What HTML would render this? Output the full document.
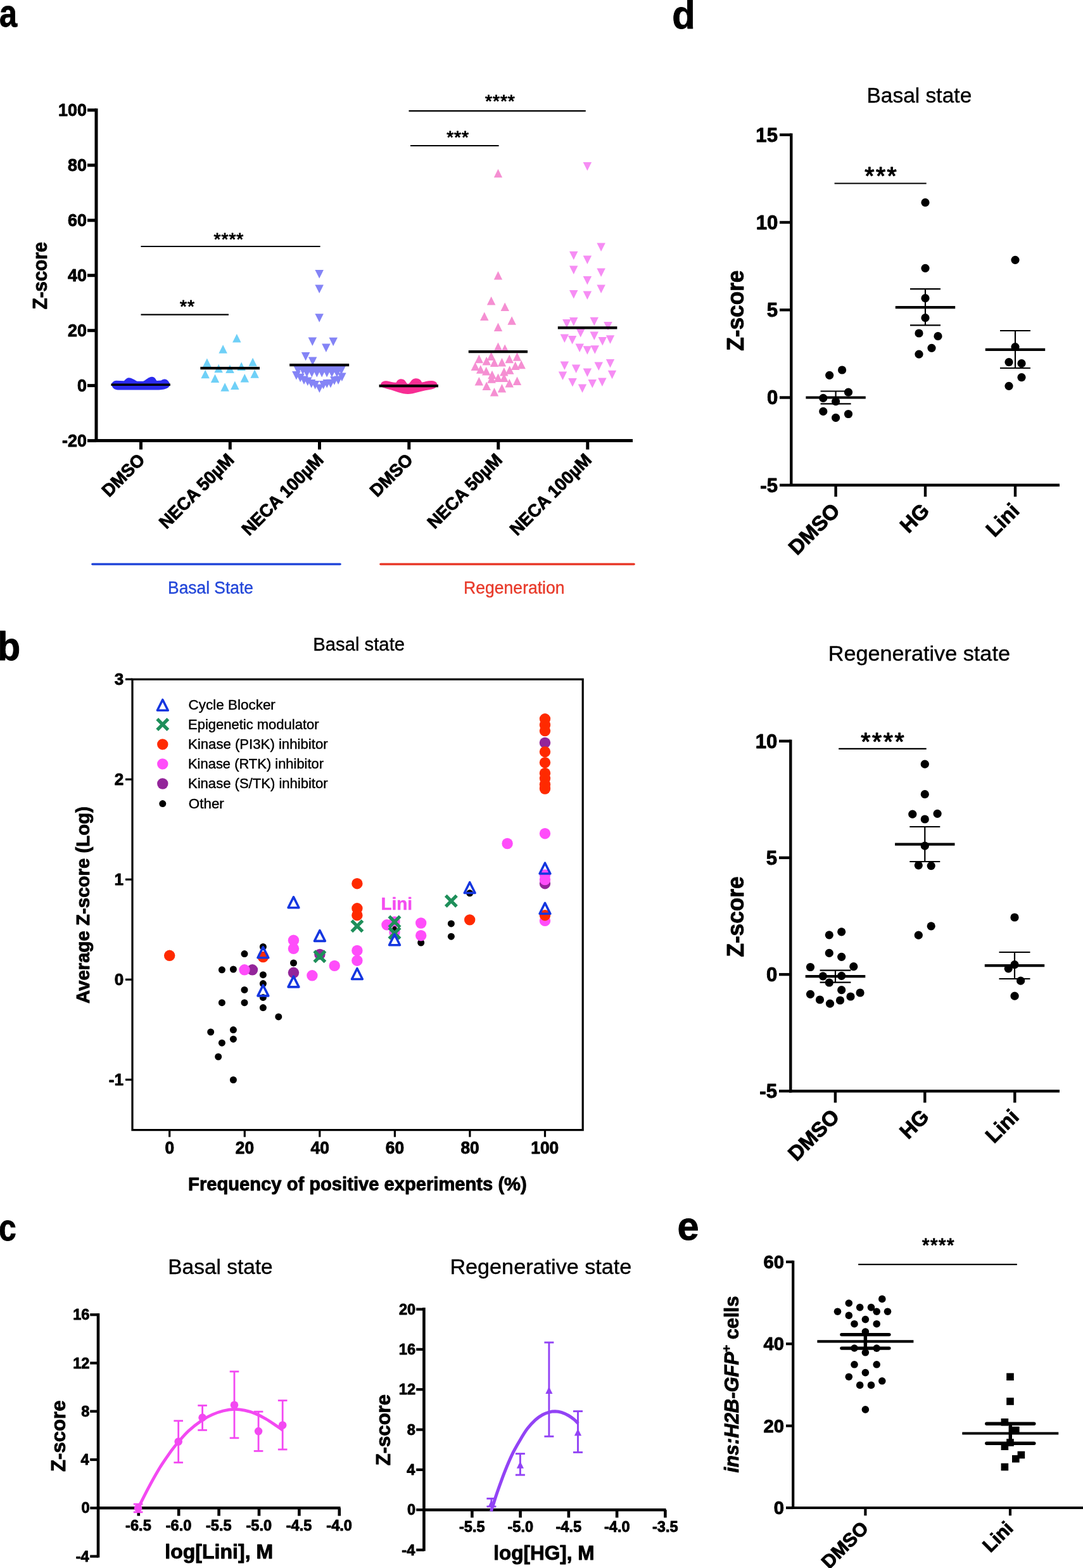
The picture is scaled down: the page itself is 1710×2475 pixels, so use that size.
<!DOCTYPE html>
<html lang="en">
<head>
<meta charset="utf-8">
<title>Figure</title>
<style>
html,body{margin:0;padding:0;background:#fff;}
body{width:1710px;height:2475px;overflow:hidden;}
svg{display:block;font-family:"Liberation Sans", Arial, sans-serif;}
</style>
</head>
<body>
<svg width="1710" height="2475" viewBox="0 0 1710 2475">
<rect x="0" y="0" width="1710" height="2475" fill="#fff"/>
<g id="panel-a">
<path d="M 176.2,607.2 C 176.2,603.8 179.9,600.8 183.4,600.8 L 195.8,601.3 C 198.5,598.3 200.6,596.2 203.6,596.2 C 207.5,596.2 212.3,599.6 216.5,601.7 L 226.1,601.7 C 230.3,600.3 234.4,594.8 239.9,594.8 C 244.7,594.8 246.1,599.6 247.5,601.0 L 254.4,600.5 C 256.4,599.1 258.5,598.5 260.3,598.5 C 264.0,598.5 267.7,603.1 268.3,607.2 C 267.7,610.7 264.7,612.7 260.6,614.1 C 257.8,615.0 253.7,615.4 250.9,615.4 L 186.1,615.4 C 181.3,615.4 176.8,612.1 176.2,607.2 Z" fill="#2b2bee"/>
<line x1="175.4" y1="607.2" x2="268.9" y2="607.2" stroke="#000" stroke-width="3.5" stroke-linecap="butt"/>
<polygon points="373.9,526.9 380.6,540.4 367.1,540.4" fill="#6fd0f7"/>
<polygon points="352.1,544.2 358.9,557.8 345.4,557.8" fill="#6fd0f7"/>
<polygon points="326.9,565.4 333.6,578.9 320.1,578.9" fill="#6fd0f7"/>
<polygon points="399.1,564.8 405.9,578.2 392.4,578.2" fill="#6fd0f7"/>
<polygon points="345.2,574.8 351.9,588.2 338.4,588.2" fill="#6fd0f7"/>
<polygon points="363.0,575.6 369.8,589.1 356.2,589.1" fill="#6fd0f7"/>
<polygon points="381.2,571.4 387.9,584.9 374.4,584.9" fill="#6fd0f7"/>
<polygon points="324.1,583.8 330.9,597.2 317.4,597.2" fill="#6fd0f7"/>
<polygon points="402.1,583.2 408.9,596.8 395.4,596.8" fill="#6fd0f7"/>
<polygon points="339.5,590.4 346.2,603.9 332.8,603.9" fill="#6fd0f7"/>
<polygon points="386.3,590.1 393.1,603.6 379.6,603.6" fill="#6fd0f7"/>
<polygon points="370.9,601.5 377.6,615.0 364.1,615.0" fill="#6fd0f7"/>
<polygon points="355.1,604.2 361.9,617.8 348.4,617.8" fill="#6fd0f7"/>
<line x1="316.4" y1="581.1" x2="410.0" y2="581.1" stroke="#000" stroke-width="4.2" stroke-linecap="butt"/>
<polygon points="504.2,439.6 510.9,426.1 497.4,426.1" fill="#8484f6"/>
<polygon points="504.2,463.1 510.9,449.6 497.4,449.6" fill="#8484f6"/>
<polygon points="504.2,508.8 510.9,495.2 497.4,495.2" fill="#8484f6"/>
<polygon points="493.3,545.9 500.1,532.4 486.6,532.4" fill="#8484f6"/>
<polygon points="526.2,546.2 533.0,532.8 519.5,532.8" fill="#8484f6"/>
<polygon points="514.9,556.1 521.6,542.6 508.1,542.6" fill="#8484f6"/>
<polygon points="482.6,569.4 489.4,555.9 475.9,555.9" fill="#8484f6"/>
<polygon points="493.7,576.9 500.4,563.4 486.9,563.4" fill="#8484f6"/>
<polygon points="470.5,591.6 477.2,578.1 463.8,578.1" fill="#8484f6"/>
<polygon points="478.1,591.6 484.9,578.1 471.4,578.1" fill="#8484f6"/>
<polygon points="485.7,591.6 492.4,578.1 478.9,578.1" fill="#8484f6"/>
<polygon points="493.3,591.6 500.1,578.1 486.6,578.1" fill="#8484f6"/>
<polygon points="500.9,591.6 507.6,578.1 494.1,578.1" fill="#8484f6"/>
<polygon points="508.5,591.6 515.2,578.1 501.8,578.1" fill="#8484f6"/>
<polygon points="516.1,591.6 522.9,578.1 509.4,578.1" fill="#8484f6"/>
<polygon points="523.7,591.6 530.5,578.1 517.0,578.1" fill="#8484f6"/>
<polygon points="531.3,591.6 538.0,578.1 524.5,578.1" fill="#8484f6"/>
<polygon points="538.9,591.6 545.6,578.1 532.1,578.1" fill="#8484f6"/>
<polygon points="484.5,595.4 491.2,581.9 477.8,581.9" fill="#8484f6"/>
<polygon points="492.4,595.4 499.1,581.9 485.6,581.9" fill="#8484f6"/>
<polygon points="500.3,595.4 507.1,581.9 493.6,581.9" fill="#8484f6"/>
<polygon points="508.2,595.4 515.0,581.9 501.4,581.9" fill="#8484f6"/>
<polygon points="516.1,595.4 522.9,581.9 509.4,581.9" fill="#8484f6"/>
<polygon points="524.0,595.4 530.8,581.9 517.2,581.9" fill="#8484f6"/>
<polygon points="532.0,595.4 538.8,581.9 525.2,581.9" fill="#8484f6"/>
<polygon points="467.9,599.5 474.6,586.0 461.1,586.0" fill="#8484f6"/>
<polygon points="474.1,603.2 480.9,589.8 467.4,589.8" fill="#8484f6"/>
<polygon points="480.0,607.0 486.8,593.5 473.2,593.5" fill="#8484f6"/>
<polygon points="485.8,609.1 492.6,595.6 479.1,595.6" fill="#8484f6"/>
<polygon points="491.7,612.5 498.4,599.0 484.9,599.0" fill="#8484f6"/>
<polygon points="497.6,614.5 504.4,601.0 490.9,601.0" fill="#8484f6"/>
<polygon points="504.4,620.1 511.1,606.6 497.6,606.6" fill="#8484f6"/>
<polygon points="510.6,614.4 517.4,600.9 503.9,600.9" fill="#8484f6"/>
<polygon points="516.2,612.6 523.0,599.1 509.5,599.1" fill="#8484f6"/>
<polygon points="522.0,612.2 528.8,598.8 515.2,598.8" fill="#8484f6"/>
<polygon points="527.9,607.8 534.6,594.2 521.1,594.2" fill="#8484f6"/>
<polygon points="534.1,607.0 540.9,593.5 527.4,593.5" fill="#8484f6"/>
<polygon points="539.9,602.0 546.6,588.5 533.1,588.5" fill="#8484f6"/>
<line x1="457.2" y1="576.1" x2="551.2" y2="576.1" stroke="#000" stroke-width="4.2" stroke-linecap="butt"/>
<path d="M601 608 C601 603 606 600.5 612 601.5 C618 602.5 622 604.5 626 603.5 C627 599 633 597 637 599 C641 601 641 605 644 606 C648 605 649 598.5 655 597.5 C661 596.5 665 600 666 603.5 C670 603 676 600.5 682 601 C688 601.5 690.5 604 690.5 608 C690 612 684 614.5 676 615.5 C664 617 654 622 644 622 C634 622 624 617 614 614.5 C606 612.5 601 611 601 608 Z" fill="#f72d93"/>
<line x1="598.6" y1="609.2" x2="692.0" y2="609.2" stroke="#000" stroke-width="4.2" stroke-linecap="butt"/>
<polygon points="786.5,266.8 793.2,280.2 779.8,280.2" fill="#f58fd2"/>
<polygon points="786.5,428.1 793.2,441.6 779.8,441.6" fill="#f58fd2"/>
<polygon points="775.6,467.9 782.4,481.4 768.9,481.4" fill="#f58fd2"/>
<polygon points="797.2,477.6 804.0,491.1 790.5,491.1" fill="#f58fd2"/>
<polygon points="764.8,492.6 771.5,506.1 758.0,506.1" fill="#f58fd2"/>
<polygon points="808.1,499.2 814.9,512.8 801.4,512.8" fill="#f58fd2"/>
<polygon points="786.5,509.5 793.2,523.0 779.8,523.0" fill="#f58fd2"/>
<polygon points="786.5,540.5 793.2,554.0 779.8,554.0" fill="#f58fd2"/>
<polygon points="797.2,543.5 804.0,557.0 790.5,557.0" fill="#f58fd2"/>
<polygon points="756.4,559.8 763.1,573.2 749.6,573.2" fill="#f58fd2"/>
<polygon points="775.6,555.6 782.4,569.1 768.9,569.1" fill="#f58fd2"/>
<polygon points="816.5,556.2 823.2,569.8 809.8,569.8" fill="#f58fd2"/>
<polygon points="804.3,559.8 811.0,573.2 797.5,573.2" fill="#f58fd2"/>
<polygon points="768.2,563.1 775.0,576.6 761.5,576.6" fill="#f58fd2"/>
<polygon points="780.5,565.5 787.2,579.0 773.8,579.0" fill="#f58fd2"/>
<polygon points="792.5,565.0 799.2,578.5 785.8,578.5" fill="#f58fd2"/>
<polygon points="823.1,568.8 829.9,582.2 816.4,582.2" fill="#f58fd2"/>
<polygon points="750.4,571.5 757.1,585.0 743.6,585.0" fill="#f58fd2"/>
<polygon points="813.7,570.6 820.5,584.1 807.0,584.1" fill="#f58fd2"/>
<polygon points="758.8,576.2 765.5,589.8 752.0,589.8" fill="#f58fd2"/>
<polygon points="804.7,577.2 811.5,590.8 798.0,590.8" fill="#f58fd2"/>
<polygon points="767.7,579.1 774.5,592.6 761.0,592.6" fill="#f58fd2"/>
<polygon points="795.9,580.0 802.6,593.5 789.1,593.5" fill="#f58fd2"/>
<polygon points="777.0,584.8 783.8,598.2 770.2,598.2" fill="#f58fd2"/>
<polygon points="786.5,589.5 793.2,603.0 779.8,603.0" fill="#f58fd2"/>
<polygon points="795.9,589.5 802.6,603.0 789.1,603.0" fill="#f58fd2"/>
<polygon points="776.1,591.2 782.9,604.8 769.4,604.8" fill="#f58fd2"/>
<polygon points="756.4,595.0 763.1,608.5 749.6,608.5" fill="#f58fd2"/>
<polygon points="816.5,594.5 823.2,608.0 809.8,608.0" fill="#f58fd2"/>
<polygon points="804.3,598.0 811.0,611.5 797.5,611.5" fill="#f58fd2"/>
<polygon points="768.2,602.6 775.0,616.1 761.5,616.1" fill="#f58fd2"/>
<polygon points="792.5,605.9 799.2,619.4 785.8,619.4" fill="#f58fd2"/>
<polygon points="780.5,612.0 787.2,625.5 773.8,625.5" fill="#f58fd2"/>
<line x1="739.8" y1="555.2" x2="833.0" y2="555.2" stroke="#000" stroke-width="4.2" stroke-linecap="butt"/>
<polygon points="927.4,269.4 934.1,255.9 920.6,255.9" fill="#f68df4"/>
<polygon points="949.1,397.1 955.9,383.6 942.4,383.6" fill="#f68df4"/>
<polygon points="905.8,410.2 912.5,396.8 899.0,396.8" fill="#f68df4"/>
<polygon points="927.4,416.9 934.1,403.4 920.6,403.4" fill="#f68df4"/>
<polygon points="905.8,432.9 912.5,419.4 899.0,419.4" fill="#f68df4"/>
<polygon points="949.1,436.9 955.9,423.4 942.4,423.4" fill="#f68df4"/>
<polygon points="927.4,449.4 934.1,435.9 920.6,435.9" fill="#f68df4"/>
<polygon points="949.1,462.9 955.9,449.4 942.4,449.4" fill="#f68df4"/>
<polygon points="905.8,471.4 912.5,457.9 899.0,457.9" fill="#f68df4"/>
<polygon points="927.4,472.9 934.1,459.4 920.6,459.4" fill="#f68df4"/>
<polygon points="894.9,517.5 901.6,503.9 888.1,503.9" fill="#f68df4"/>
<polygon points="905.8,514.6 912.5,501.1 899.0,501.1" fill="#f68df4"/>
<polygon points="938.3,514.2 945.0,500.8 931.5,500.8" fill="#f68df4"/>
<polygon points="960.0,521.5 966.8,508.0 953.2,508.0" fill="#f68df4"/>
<polygon points="916.7,532.5 923.5,519.0 910.0,519.0" fill="#f68df4"/>
<polygon points="938.3,537.1 945.0,523.6 931.5,523.6" fill="#f68df4"/>
<polygon points="891.4,541.0 898.1,527.5 884.6,527.5" fill="#f68df4"/>
<polygon points="903.6,543.4 910.4,529.9 896.9,529.9" fill="#f68df4"/>
<polygon points="951.3,545.6 958.0,532.1 944.5,532.1" fill="#f68df4"/>
<polygon points="963.5,542.8 970.2,529.2 956.8,529.2" fill="#f68df4"/>
<polygon points="915.2,556.0 922.0,542.5 908.5,542.5" fill="#f68df4"/>
<polygon points="927.4,559.8 934.1,546.2 920.6,546.2" fill="#f68df4"/>
<polygon points="939.3,558.8 946.0,545.2 932.5,545.2" fill="#f68df4"/>
<polygon points="891.4,584.1 898.1,570.6 884.6,570.6" fill="#f68df4"/>
<polygon points="963.5,580.4 970.2,566.9 956.8,566.9" fill="#f68df4"/>
<polygon points="909.6,588.9 916.4,575.4 902.9,575.4" fill="#f68df4"/>
<polygon points="945.3,585.0 952.0,571.5 938.5,571.5" fill="#f68df4"/>
<polygon points="888.5,600.1 895.2,586.6 881.8,586.6" fill="#f68df4"/>
<polygon points="927.4,595.0 934.1,581.5 920.6,581.5" fill="#f68df4"/>
<polygon points="966.5,598.2 973.2,584.8 959.8,584.8" fill="#f68df4"/>
<polygon points="904.0,610.5 910.8,597.0 897.2,597.0" fill="#f68df4"/>
<polygon points="950.9,610.0 957.6,596.5 944.1,596.5" fill="#f68df4"/>
<polygon points="935.3,612.4 942.0,598.9 928.5,598.9" fill="#f68df4"/>
<polygon points="919.5,619.9 926.2,606.4 912.8,606.4" fill="#f68df4"/>
<line x1="880.8" y1="517.3" x2="974.4" y2="517.3" stroke="#000" stroke-width="4.2" stroke-linecap="butt"/>
<line x1="152.0" y1="171.3" x2="152.0" y2="698.1" stroke="#000" stroke-width="5" stroke-linecap="butt"/>
<line x1="149.5" y1="695.6" x2="999.0" y2="695.6" stroke="#000" stroke-width="5" stroke-linecap="butt"/>
<line x1="138.0" y1="173.8" x2="152.0" y2="173.8" stroke="#000" stroke-width="5" stroke-linecap="butt"/>
<text transform="translate(92.1,183.3) scale(0.975,1)" font-size="27.6" font-weight="bold" font-style="normal" text-anchor="start" fill="#000" stroke="#000" stroke-width="0.9" stroke-linejoin="round">100</text>
<line x1="138.0" y1="260.8" x2="152.0" y2="260.8" stroke="#000" stroke-width="5" stroke-linecap="butt"/>
<text transform="translate(107.1,270.3) scale(0.975,1)" font-size="27.6" font-weight="bold" font-style="normal" text-anchor="start" fill="#000" stroke="#000" stroke-width="0.9" stroke-linejoin="round">80</text>
<line x1="138.0" y1="347.8" x2="152.0" y2="347.8" stroke="#000" stroke-width="5" stroke-linecap="butt"/>
<text transform="translate(107.1,357.3) scale(0.975,1)" font-size="27.6" font-weight="bold" font-style="normal" text-anchor="start" fill="#000" stroke="#000" stroke-width="0.9" stroke-linejoin="round">60</text>
<line x1="138.0" y1="434.7" x2="152.0" y2="434.7" stroke="#000" stroke-width="5" stroke-linecap="butt"/>
<text transform="translate(107.1,444.2) scale(0.975,1)" font-size="27.6" font-weight="bold" font-style="normal" text-anchor="start" fill="#000" stroke="#000" stroke-width="0.9" stroke-linejoin="round">40</text>
<line x1="138.0" y1="521.7" x2="152.0" y2="521.7" stroke="#000" stroke-width="5" stroke-linecap="butt"/>
<text transform="translate(107.1,531.2) scale(0.975,1)" font-size="27.6" font-weight="bold" font-style="normal" text-anchor="start" fill="#000" stroke="#000" stroke-width="0.9" stroke-linejoin="round">20</text>
<line x1="138.0" y1="608.6" x2="152.0" y2="608.6" stroke="#000" stroke-width="5" stroke-linecap="butt"/>
<text transform="translate(122.1,618.1) scale(0.975,1)" font-size="27.6" font-weight="bold" font-style="normal" text-anchor="start" fill="#000" stroke="#000" stroke-width="0.9" stroke-linejoin="round">0</text>
<line x1="138.0" y1="695.6" x2="152.0" y2="695.6" stroke="#000" stroke-width="5" stroke-linecap="butt"/>
<text transform="translate(98.1,705.1) scale(0.975,1)" font-size="27.6" font-weight="bold" font-style="normal" text-anchor="start" fill="#000" stroke="#000" stroke-width="0.9" stroke-linejoin="round">-20</text>
<line x1="222.5" y1="695.6" x2="222.5" y2="709.5" stroke="#000" stroke-width="5" stroke-linecap="butt"/>
<line x1="363.3" y1="695.6" x2="363.3" y2="709.5" stroke="#000" stroke-width="5" stroke-linecap="butt"/>
<line x1="504.5" y1="695.6" x2="504.5" y2="709.5" stroke="#000" stroke-width="5" stroke-linecap="butt"/>
<line x1="645.8" y1="695.6" x2="645.8" y2="709.5" stroke="#000" stroke-width="5" stroke-linecap="butt"/>
<line x1="786.8" y1="695.6" x2="786.8" y2="709.5" stroke="#000" stroke-width="5" stroke-linecap="butt"/>
<line x1="927.8" y1="695.6" x2="927.8" y2="709.5" stroke="#000" stroke-width="5" stroke-linecap="butt"/>
<text transform="translate(230.3,727.6) rotate(-45) scale(0.978,1)" font-size="28" font-weight="bold" font-style="normal" text-anchor="end" fill="#000" stroke="#000" stroke-width="0.9" stroke-linejoin="round">DMSO</text>
<text transform="translate(371.1,727.6) rotate(-45) scale(0.978,1)" font-size="28" font-weight="bold" font-style="normal" text-anchor="end" fill="#000" stroke="#000" stroke-width="0.9" stroke-linejoin="round">NECA 50µM</text>
<text transform="translate(512.3,727.6) rotate(-45) scale(0.978,1)" font-size="28" font-weight="bold" font-style="normal" text-anchor="end" fill="#000" stroke="#000" stroke-width="0.9" stroke-linejoin="round">NECA 100µM</text>
<text transform="translate(653.6,727.6) rotate(-45) scale(0.978,1)" font-size="28" font-weight="bold" font-style="normal" text-anchor="end" fill="#000" stroke="#000" stroke-width="0.9" stroke-linejoin="round">DMSO</text>
<text transform="translate(794.6,727.6) rotate(-45) scale(0.978,1)" font-size="28" font-weight="bold" font-style="normal" text-anchor="end" fill="#000" stroke="#000" stroke-width="0.9" stroke-linejoin="round">NECA 50µM</text>
<text transform="translate(935.6,727.6) rotate(-45) scale(0.978,1)" font-size="28" font-weight="bold" font-style="normal" text-anchor="end" fill="#000" stroke="#000" stroke-width="0.9" stroke-linejoin="round">NECA 100µM</text>
<text transform="translate(73.9,488.2) rotate(-90) scale(0.9495,1)" font-size="30.97" font-weight="bold" font-style="normal" text-anchor="start" fill="#000" stroke="#000" stroke-width="0.9" stroke-linejoin="round">Z-score</text>
<line x1="222.5" y1="389.0" x2="505.6" y2="389.0" stroke="#000" stroke-width="2.2" stroke-linecap="butt"/>
<text transform="translate(337.6,386.5)" font-size="28.3" font-weight="normal" font-style="normal" text-anchor="start" fill="#000" stroke="#000" stroke-width="1.0" stroke-linejoin="round" letter-spacing="0.89">****</text>
<line x1="222.5" y1="496.6" x2="361.0" y2="496.6" stroke="#000" stroke-width="2.2" stroke-linecap="butt"/>
<text transform="translate(284.0,493.1)" font-size="28.3" font-weight="normal" font-style="normal" text-anchor="start" fill="#000" stroke="#000" stroke-width="1.0" stroke-linejoin="round" letter-spacing="0.89">**</text>
<line x1="645.5" y1="175.2" x2="924.8" y2="175.2" stroke="#000" stroke-width="2.2" stroke-linecap="butt"/>
<text transform="translate(766.1,168.9)" font-size="28.3" font-weight="normal" font-style="normal" text-anchor="start" fill="#000" stroke="#000" stroke-width="1.0" stroke-linejoin="round" letter-spacing="0.89">****</text>
<line x1="648.0" y1="230.0" x2="787.6" y2="230.0" stroke="#000" stroke-width="2.2" stroke-linecap="butt"/>
<text transform="translate(705.2,225.7)" font-size="28.3" font-weight="normal" font-style="normal" text-anchor="start" fill="#000" stroke="#000" stroke-width="1.0" stroke-linejoin="round" letter-spacing="0.89">***</text>
<line x1="146.0" y1="890.5" x2="537.0" y2="890.5" stroke="#2347d9" stroke-width="3.6" stroke-linecap="round"/>
<line x1="601.0" y1="890.5" x2="1001.0" y2="890.5" stroke="#e83a2a" stroke-width="3.6" stroke-linecap="round"/>
<text transform="translate(265.1,937.0) scale(0.9418,1)" font-size="28" font-weight="normal" font-style="normal" text-anchor="start" fill="#2347d9" stroke="#2347d9" stroke-width="0.4" stroke-linejoin="round">Basal State</text>
<text transform="translate(732.1,937.0) scale(0.9489,1)" font-size="28" font-weight="normal" font-style="normal" text-anchor="start" fill="#e83a2a" stroke="#e83a2a" stroke-width="0.4" stroke-linejoin="round">Regeneration</text>
</g>
<g id="panel-b">
<text transform="translate(494.3,1026.6) scale(1.0233,1)" font-size="28.6" font-weight="normal" font-style="normal" text-anchor="start" fill="#000" stroke="#000" stroke-width="0.4" stroke-linejoin="round">Basal state</text>
<circle cx="350.4" cy="1530.8" r="5.5" fill="#000"/>
<circle cx="368.4" cy="1530.0" r="5.5" fill="#000"/>
<circle cx="386.0" cy="1505.6" r="5.5" fill="#000"/>
<circle cx="415.4" cy="1494.4" r="5.5" fill="#000"/>
<circle cx="415.4" cy="1538.7" r="5.5" fill="#000"/>
<circle cx="415.4" cy="1552.6" r="5.5" fill="#000"/>
<circle cx="386.0" cy="1562.4" r="5.5" fill="#000"/>
<circle cx="350.4" cy="1582.7" r="5.5" fill="#000"/>
<circle cx="386.0" cy="1582.7" r="5.5" fill="#000"/>
<circle cx="415.4" cy="1574.4" r="5.5" fill="#000"/>
<circle cx="415.4" cy="1590.6" r="5.5" fill="#000"/>
<circle cx="439.8" cy="1604.9" r="5.5" fill="#000"/>
<circle cx="332.7" cy="1629.0" r="5.5" fill="#000"/>
<circle cx="368.4" cy="1625.6" r="5.5" fill="#000"/>
<circle cx="368.4" cy="1640.2" r="5.5" fill="#000"/>
<circle cx="350.4" cy="1646.2" r="5.5" fill="#000"/>
<circle cx="344.7" cy="1668.0" r="5.5" fill="#000"/>
<circle cx="368.4" cy="1704.5" r="5.5" fill="#000"/>
<circle cx="463.5" cy="1520.0" r="5.5" fill="#000"/>
<circle cx="664.7" cy="1488.0" r="5.5" fill="#000"/>
<circle cx="712.4" cy="1457.9" r="5.5" fill="#000"/>
<circle cx="712.4" cy="1478.2" r="5.5" fill="#000"/>
<circle cx="741.7" cy="1409.8" r="5.5" fill="#000"/>
<circle cx="860.5" cy="1134.8" r="8.7" fill="#ff2a00"/>
<circle cx="860.5" cy="1144.2" r="8.7" fill="#ff2a00"/>
<circle cx="860.5" cy="1153.6" r="8.7" fill="#ff2a00"/>
<circle cx="860.5" cy="1172.4" r="8.7" fill="#93259a"/>
<circle cx="860.5" cy="1186.7" r="8.7" fill="#ff2a00"/>
<circle cx="860.5" cy="1203.6" r="8.7" fill="#ff2a00"/>
<circle cx="860.5" cy="1220.5" r="8.7" fill="#ff2a00"/>
<circle cx="860.5" cy="1228.8" r="8.7" fill="#ff2a00"/>
<circle cx="860.5" cy="1238.2" r="8.7" fill="#ff2a00"/>
<circle cx="860.5" cy="1245.0" r="8.7" fill="#ff2a00"/>
<circle cx="860.5" cy="1315.7" r="8.7" fill="#ff4dfa"/>
<circle cx="801.1" cy="1331.5" r="8.7" fill="#ff4dfa"/>
<circle cx="860.5" cy="1394.7" r="8.7" fill="#93259a"/>
<circle cx="860.5" cy="1381.0" r="8.7" fill="#ff4dfa"/>
<circle cx="860.5" cy="1388.5" r="8.7" fill="#ff4dfa"/>
<polygon points="860.5,1362.2 868.9,1379.0 852.1,1379.0" fill="none" stroke="#1436e0" stroke-width="3.6" stroke-linejoin="round"/>
<circle cx="860.5" cy="1453.4" r="8.7" fill="#ff4dfa"/>
<circle cx="860.5" cy="1444.7" r="8.7" fill="#ff2a00"/>
<polygon points="860.5,1425.4 868.9,1442.2 852.1,1442.2" fill="none" stroke="#1436e0" stroke-width="3.6" stroke-linejoin="round"/>
<circle cx="741.7" cy="1451.9" r="8.7" fill="#ff2a00"/>
<polygon points="741.7,1392.7 750.1,1409.5 733.3,1409.5" fill="none" stroke="#1436e0" stroke-width="3.6" stroke-linejoin="round"/>
<path d="M703.8 1413.6L721.0 1430.8M703.8 1430.8L721.0 1413.6" stroke="#1e8f5a" stroke-width="5.3" fill="none"/>
<circle cx="664.7" cy="1457.0" r="8.7" fill="#ff4dfa"/>
<circle cx="664.7" cy="1476.7" r="8.7" fill="#ff4dfa"/>
<circle cx="610.9" cy="1459.8" r="8.7" fill="#ff4dfa"/>
<circle cx="623.0" cy="1455.0" r="8.7" fill="#ff4dfa"/>
<circle cx="623.0" cy="1472.0" r="8.7" fill="#ff4dfa"/>
<path d="M614.4 1446.4L631.6 1463.6M614.4 1463.6L631.6 1446.4" stroke="#1e8f5a" stroke-width="5.3" fill="none"/>
<circle cx="623.0" cy="1465.4" r="3.5" fill="#000"/>
<path d="M614.4 1464.4L631.6 1481.6M614.4 1481.6L631.6 1464.4" stroke="#1e8f5a" stroke-width="5.3" fill="none"/>
<polygon points="623.0,1474.9 631.4,1491.7 614.6,1491.7" fill="none" stroke="#1436e0" stroke-width="3.6" stroke-linejoin="round"/>
<circle cx="563.9" cy="1394.7" r="8.7" fill="#ff2a00"/>
<circle cx="563.9" cy="1433.8" r="8.7" fill="#ff2a00"/>
<circle cx="563.9" cy="1444.7" r="8.7" fill="#ff2a00"/>
<path d="M555.3 1453.1L572.5 1470.3M555.3 1470.3L572.5 1453.1" stroke="#1e8f5a" stroke-width="5.3" fill="none"/>
<circle cx="563.9" cy="1500.4" r="8.7" fill="#ff4dfa"/>
<circle cx="563.9" cy="1516.2" r="8.7" fill="#ff4dfa"/>
<polygon points="563.9,1528.7 572.3,1545.5 555.5,1545.5" fill="none" stroke="#1436e0" stroke-width="3.6" stroke-linejoin="round"/>
<circle cx="528.2" cy="1524.4" r="8.7" fill="#ff4dfa"/>
<circle cx="504.9" cy="1506.4" r="8.7" fill="#93259a"/>
<path d="M496.3 1501.2L513.5 1518.4M496.3 1518.4L513.5 1501.2" stroke="#1e8f5a" stroke-width="5.3" fill="none"/>
<polygon points="504.9,1468.6 513.3,1485.4 496.5,1485.4" fill="none" stroke="#1436e0" stroke-width="3.6" stroke-linejoin="round"/>
<circle cx="492.9" cy="1539.8" r="8.7" fill="#ff4dfa"/>
<circle cx="463.5" cy="1484.2" r="8.7" fill="#ff4dfa"/>
<circle cx="463.5" cy="1497.4" r="8.7" fill="#ff4dfa"/>
<circle cx="463.5" cy="1535.3" r="8.7" fill="#93259a"/>
<polygon points="463.5,1415.9 471.9,1432.7 455.1,1432.7" fill="none" stroke="#1436e0" stroke-width="3.6" stroke-linejoin="round"/>
<polygon points="463.5,1541.1 471.9,1557.9 455.1,1557.9" fill="none" stroke="#1436e0" stroke-width="3.6" stroke-linejoin="round"/>
<circle cx="415.4" cy="1510.5" r="8.7" fill="#ff2a00"/>
<polygon points="415.4,1494.9 423.8,1511.7 407.0,1511.7" fill="none" stroke="#1436e0" stroke-width="3.6" stroke-linejoin="round"/>
<polygon points="415.4,1555.1 423.8,1571.9 407.0,1571.9" fill="none" stroke="#1436e0" stroke-width="3.6" stroke-linejoin="round"/>
<circle cx="398.5" cy="1530.8" r="8.7" fill="#93259a"/>
<circle cx="386.0" cy="1530.8" r="8.7" fill="#ff4dfa"/>
<circle cx="267.7" cy="1508.3" r="8.7" fill="#ff2a00"/>
<text transform="translate(601.4,1435.7) scale(0.9818,1)" font-size="28.41" font-weight="bold" font-style="normal" text-anchor="start" fill="#f44df0" stroke="#f44df0" stroke-width="0.5" stroke-linejoin="round">Lini</text>
<polygon points="256.8,1104.5 265.2,1121.3 248.4,1121.3" fill="none" stroke="#1436e0" stroke-width="3.6" stroke-linejoin="round"/>
<path d="M248.2 1134.9L265.4 1152.1M248.2 1152.1L265.4 1134.9" stroke="#1e8f5a" stroke-width="5.3" fill="none"/>
<circle cx="256.8" cy="1174.9" r="8.7" fill="#ff2a00"/>
<circle cx="256.8" cy="1205.9" r="8.7" fill="#ff4dfa"/>
<circle cx="256.8" cy="1237.0" r="8.7" fill="#93259a"/>
<circle cx="256.8" cy="1268.6" r="5.5" fill="#000"/>
<text transform="translate(297.6,1120.1) scale(1.0549,1)" font-size="21.3" font-weight="normal" font-style="normal" text-anchor="start" fill="#000" stroke="#000" stroke-width="0.4" stroke-linejoin="round">Cycle Blocker</text>
<text transform="translate(297.0,1150.6) scale(1.0329,1)" font-size="21.3" font-weight="normal" font-style="normal" text-anchor="start" fill="#000" stroke="#000" stroke-width="0.4" stroke-linejoin="round">Epigenetic modulator</text>
<text transform="translate(297.0,1181.8) scale(1.0415,1)" font-size="21.3" font-weight="normal" font-style="normal" text-anchor="start" fill="#000" stroke="#000" stroke-width="0.4" stroke-linejoin="round">Kinase (PI3K) inhibitor</text>
<text transform="translate(297.0,1213.0) scale(1.0298,1)" font-size="21.3" font-weight="normal" font-style="normal" text-anchor="start" fill="#000" stroke="#000" stroke-width="0.4" stroke-linejoin="round">Kinase (RTK) inhibitor</text>
<text transform="translate(297.0,1244.1) scale(1.036,1)" font-size="21.3" font-weight="normal" font-style="normal" text-anchor="start" fill="#000" stroke="#000" stroke-width="0.4" stroke-linejoin="round">Kinase (S/TK) inhibitor</text>
<text transform="translate(297.8,1275.7) scale(1.0516,1)" font-size="21.3" font-weight="normal" font-style="normal" text-anchor="start" fill="#000" stroke="#000" stroke-width="0.4" stroke-linejoin="round">Other</text>
<rect x="209.0" y="1072.3" width="711.2" height="711.3" fill="none" stroke="#000" stroke-width="3.2"/>
<line x1="198.0" y1="1072.2" x2="209.0" y2="1072.2" stroke="#000" stroke-width="3.2" stroke-linecap="butt"/>
<text transform="translate(180.7,1081.4) scale(0.98,1)" font-size="26.6" font-weight="bold" font-style="normal" text-anchor="start" fill="#000" stroke="#000" stroke-width="0.9" stroke-linejoin="round">3</text>
<line x1="198.0" y1="1230.2" x2="209.0" y2="1230.2" stroke="#000" stroke-width="3.2" stroke-linecap="butt"/>
<text transform="translate(180.8,1239.4) scale(0.98,1)" font-size="26.6" font-weight="bold" font-style="normal" text-anchor="start" fill="#000" stroke="#000" stroke-width="0.9" stroke-linejoin="round">2</text>
<line x1="198.0" y1="1388.2" x2="209.0" y2="1388.2" stroke="#000" stroke-width="3.2" stroke-linecap="butt"/>
<text transform="translate(180.4,1397.4) scale(0.98,1)" font-size="26.6" font-weight="bold" font-style="normal" text-anchor="start" fill="#000" stroke="#000" stroke-width="0.9" stroke-linejoin="round">1</text>
<line x1="198.0" y1="1546.2" x2="209.0" y2="1546.2" stroke="#000" stroke-width="3.2" stroke-linecap="butt"/>
<text transform="translate(180.8,1555.4) scale(0.98,1)" font-size="26.6" font-weight="bold" font-style="normal" text-anchor="start" fill="#000" stroke="#000" stroke-width="0.9" stroke-linejoin="round">0</text>
<line x1="198.0" y1="1704.2" x2="209.0" y2="1704.2" stroke="#000" stroke-width="3.2" stroke-linecap="butt"/>
<text transform="translate(171.7,1713.4) scale(0.98,1)" font-size="26.6" font-weight="bold" font-style="normal" text-anchor="start" fill="#000" stroke="#000" stroke-width="0.9" stroke-linejoin="round">-1</text>
<line x1="267.7" y1="1783.6" x2="267.7" y2="1794.7" stroke="#000" stroke-width="3.2" stroke-linecap="butt"/>
<text transform="translate(260.4,1821.1) scale(0.975,1)" font-size="27" font-weight="bold" font-style="normal" text-anchor="start" fill="#000" stroke="#000" stroke-width="0.9" stroke-linejoin="round">0</text>
<line x1="386.3" y1="1783.6" x2="386.3" y2="1794.7" stroke="#000" stroke-width="3.2" stroke-linecap="butt"/>
<text transform="translate(371.8,1821.1) scale(0.975,1)" font-size="27" font-weight="bold" font-style="normal" text-anchor="start" fill="#000" stroke="#000" stroke-width="0.9" stroke-linejoin="round">20</text>
<line x1="504.8" y1="1783.6" x2="504.8" y2="1794.7" stroke="#000" stroke-width="3.2" stroke-linecap="butt"/>
<text transform="translate(490.6,1821.1) scale(0.975,1)" font-size="27" font-weight="bold" font-style="normal" text-anchor="start" fill="#000" stroke="#000" stroke-width="0.9" stroke-linejoin="round">40</text>
<line x1="623.4" y1="1783.6" x2="623.4" y2="1794.7" stroke="#000" stroke-width="3.2" stroke-linecap="butt"/>
<text transform="translate(608.8,1821.1) scale(0.975,1)" font-size="27" font-weight="bold" font-style="normal" text-anchor="start" fill="#000" stroke="#000" stroke-width="0.9" stroke-linejoin="round">60</text>
<line x1="741.9" y1="1783.6" x2="741.9" y2="1794.7" stroke="#000" stroke-width="3.2" stroke-linecap="butt"/>
<text transform="translate(727.4,1821.1) scale(0.975,1)" font-size="27" font-weight="bold" font-style="normal" text-anchor="start" fill="#000" stroke="#000" stroke-width="0.9" stroke-linejoin="round">80</text>
<line x1="860.5" y1="1783.6" x2="860.5" y2="1794.7" stroke="#000" stroke-width="3.2" stroke-linecap="butt"/>
<text transform="translate(838.3,1821.1) scale(0.975,1)" font-size="27" font-weight="bold" font-style="normal" text-anchor="start" fill="#000" stroke="#000" stroke-width="0.9" stroke-linejoin="round">100</text>
<text transform="translate(297.1,1878.9) scale(1.0196,1)" font-size="28.6" font-weight="bold" font-style="normal" text-anchor="start" fill="#000" stroke="#000" stroke-width="0.9" stroke-linejoin="round">Frequency of positive experiments (%)</text>
<text transform="translate(141.4,1584.1) rotate(-90) scale(0.9676,1)" font-size="30.4" font-weight="bold" font-style="normal" text-anchor="start" fill="#000" stroke="#000" stroke-width="0.9" stroke-linejoin="round">Average Z-score (Log)</text>
</g>
<g id="panel-c">
<text transform="translate(265.3,2011.0) scale(1.0132,1)" font-size="33" font-weight="normal" font-style="normal" text-anchor="start" fill="#000" stroke="#000" stroke-width="0.4" stroke-linejoin="round">Basal state</text>
<text transform="translate(710.4,2011.0) scale(1.0361,1)" font-size="33" font-weight="normal" font-style="normal" text-anchor="start" fill="#000" stroke="#000" stroke-width="0.4" stroke-linejoin="round">Regenerative state</text>
<line x1="155.0" y1="2072.9" x2="155.0" y2="2458.6" stroke="#000" stroke-width="4.6" stroke-linecap="butt"/>
<line x1="155.0" y1="2380.3" x2="537.5" y2="2380.3" stroke="#000" stroke-width="4.6" stroke-linecap="butt"/>
<line x1="142.2" y1="2075.2" x2="155.0" y2="2075.2" stroke="#000" stroke-width="4.2" stroke-linecap="butt"/>
<text transform="translate(115.2,2083.3)" font-size="23.6" font-weight="bold" font-style="normal" text-anchor="start" fill="#000" stroke="#000" stroke-width="0.9" stroke-linejoin="round">16</text>
<line x1="142.2" y1="2151.5" x2="155.0" y2="2151.5" stroke="#000" stroke-width="4.2" stroke-linecap="butt"/>
<text transform="translate(115.2,2159.6)" font-size="23.6" font-weight="bold" font-style="normal" text-anchor="start" fill="#000" stroke="#000" stroke-width="0.9" stroke-linejoin="round">12</text>
<line x1="142.2" y1="2227.7" x2="155.0" y2="2227.7" stroke="#000" stroke-width="4.2" stroke-linecap="butt"/>
<text transform="translate(128.2,2235.9)" font-size="23.6" font-weight="bold" font-style="normal" text-anchor="start" fill="#000" stroke="#000" stroke-width="0.9" stroke-linejoin="round">8</text>
<line x1="142.2" y1="2304.0" x2="155.0" y2="2304.0" stroke="#000" stroke-width="4.2" stroke-linecap="butt"/>
<text transform="translate(127.6,2312.1)" font-size="23.6" font-weight="bold" font-style="normal" text-anchor="start" fill="#000" stroke="#000" stroke-width="0.9" stroke-linejoin="round">4</text>
<line x1="142.2" y1="2380.3" x2="155.0" y2="2380.3" stroke="#000" stroke-width="4.2" stroke-linecap="butt"/>
<text transform="translate(128.4,2388.4)" font-size="23.6" font-weight="bold" font-style="normal" text-anchor="start" fill="#000" stroke="#000" stroke-width="0.9" stroke-linejoin="round">0</text>
<line x1="142.2" y1="2456.6" x2="155.0" y2="2456.6" stroke="#000" stroke-width="4.2" stroke-linecap="butt"/>
<text transform="translate(119.7,2464.7)" font-size="23.6" font-weight="bold" font-style="normal" text-anchor="start" fill="#000" stroke="#000" stroke-width="0.9" stroke-linejoin="round">-4</text>
<line x1="218.8" y1="2380.3" x2="218.8" y2="2392.7" stroke="#000" stroke-width="4.6" stroke-linecap="butt"/>
<text transform="translate(198.1,2415.8)" font-size="23.6" font-weight="bold" font-style="normal" text-anchor="start" fill="#000" stroke="#000" stroke-width="0.9" stroke-linejoin="round">-6.5</text>
<line x1="282.2" y1="2380.3" x2="282.2" y2="2392.7" stroke="#000" stroke-width="4.6" stroke-linecap="butt"/>
<text transform="translate(261.7,2415.8)" font-size="23.6" font-weight="bold" font-style="normal" text-anchor="start" fill="#000" stroke="#000" stroke-width="0.9" stroke-linejoin="round">-6.0</text>
<line x1="345.6" y1="2380.3" x2="345.6" y2="2392.7" stroke="#000" stroke-width="4.6" stroke-linecap="butt"/>
<text transform="translate(324.9,2415.8)" font-size="23.6" font-weight="bold" font-style="normal" text-anchor="start" fill="#000" stroke="#000" stroke-width="0.9" stroke-linejoin="round">-5.5</text>
<line x1="409.0" y1="2380.3" x2="409.0" y2="2392.7" stroke="#000" stroke-width="4.6" stroke-linecap="butt"/>
<text transform="translate(388.5,2415.8)" font-size="23.6" font-weight="bold" font-style="normal" text-anchor="start" fill="#000" stroke="#000" stroke-width="0.9" stroke-linejoin="round">-5.0</text>
<line x1="472.4" y1="2380.3" x2="472.4" y2="2392.7" stroke="#000" stroke-width="4.6" stroke-linecap="butt"/>
<text transform="translate(451.7,2415.8)" font-size="23.6" font-weight="bold" font-style="normal" text-anchor="start" fill="#000" stroke="#000" stroke-width="0.9" stroke-linejoin="round">-4.5</text>
<line x1="535.8" y1="2380.3" x2="535.8" y2="2392.7" stroke="#000" stroke-width="4.6" stroke-linecap="butt"/>
<text transform="translate(515.3,2415.8)" font-size="23.6" font-weight="bold" font-style="normal" text-anchor="start" fill="#000" stroke="#000" stroke-width="0.9" stroke-linejoin="round">-4.0</text>
<text transform="translate(102.5,2322.9) rotate(-90) scale(0.9738,1)" font-size="31.97" font-weight="bold" font-style="normal" text-anchor="start" fill="#000" stroke="#000" stroke-width="0.9" stroke-linejoin="round">Z-score</text>
<text transform="translate(260.3,2460.2) scale(1.0344,1)" font-size="31" font-weight="bold" font-style="normal" text-anchor="start" fill="#000" stroke="#000" stroke-width="0.9" stroke-linejoin="round">log[Lini], M</text>
<path d="M218.1 2380.6 C220.7 2375.4 228.4 2359.8 233.8 2349.6 C239.2 2339.4 245.2 2328.5 250.8 2319.2 C256.4 2309.9 262.6 2301.0 267.7 2293.8 C272.8 2286.6 276.6 2281.9 281.7 2276.0 C286.8 2270.1 292.0 2263.9 298.1 2258.3 C304.2 2252.7 312.2 2246.4 318.4 2242.2 C324.6 2238.0 329.6 2235.4 335.3 2232.9 C341.0 2230.4 346.5 2228.4 352.3 2227.0 C358.1 2225.6 364.4 2224.6 370.0 2224.4 C375.6 2224.2 380.6 2225.0 386.1 2226.1 C391.6 2227.2 397.4 2228.9 403.0 2231.2 C408.6 2233.5 414.3 2236.4 419.9 2239.7 C425.5 2242.9 432.4 2247.8 436.8 2250.7 C441.2 2253.6 444.6 2256.2 446.2 2257.3" fill="none" stroke="#f349f2" stroke-width="4.8" stroke-linecap="butt" stroke-linejoin="round"/>
<line x1="218.1" y1="2374.2" x2="218.1" y2="2386.8" stroke="#f349f2" stroke-width="2.8" stroke-linecap="butt"/>
<line x1="210.8" y1="2374.2" x2="225.4" y2="2374.2" stroke="#f349f2" stroke-width="2.8" stroke-linecap="butt"/>
<line x1="210.8" y1="2386.8" x2="225.4" y2="2386.8" stroke="#f349f2" stroke-width="2.8" stroke-linecap="butt"/>
<circle cx="218.1" cy="2380.4" r="6.3" fill="#f349f2"/>
<line x1="281.7" y1="2242.7" x2="281.7" y2="2308.5" stroke="#f349f2" stroke-width="2.8" stroke-linecap="butt"/>
<line x1="274.4" y1="2242.7" x2="289.0" y2="2242.7" stroke="#f349f2" stroke-width="2.8" stroke-linecap="butt"/>
<line x1="274.4" y1="2308.5" x2="289.0" y2="2308.5" stroke="#f349f2" stroke-width="2.8" stroke-linecap="butt"/>
<circle cx="281.7" cy="2275.5" r="6.3" fill="#f349f2"/>
<line x1="319.6" y1="2218.5" x2="319.6" y2="2257.4" stroke="#f349f2" stroke-width="2.8" stroke-linecap="butt"/>
<line x1="312.3" y1="2218.5" x2="326.9" y2="2218.5" stroke="#f349f2" stroke-width="2.8" stroke-linecap="butt"/>
<line x1="312.3" y1="2257.4" x2="326.9" y2="2257.4" stroke="#f349f2" stroke-width="2.8" stroke-linecap="butt"/>
<circle cx="319.6" cy="2237.6" r="6.3" fill="#f349f2"/>
<line x1="370.0" y1="2164.9" x2="370.0" y2="2269.8" stroke="#f349f2" stroke-width="2.8" stroke-linecap="butt"/>
<line x1="362.7" y1="2164.9" x2="377.3" y2="2164.9" stroke="#f349f2" stroke-width="2.8" stroke-linecap="butt"/>
<line x1="362.7" y1="2269.8" x2="377.3" y2="2269.8" stroke="#f349f2" stroke-width="2.8" stroke-linecap="butt"/>
<circle cx="370.0" cy="2217.7" r="6.3" fill="#f349f2"/>
<line x1="408.1" y1="2228.2" x2="408.1" y2="2290.4" stroke="#f349f2" stroke-width="2.8" stroke-linecap="butt"/>
<line x1="400.8" y1="2228.2" x2="415.4" y2="2228.2" stroke="#f349f2" stroke-width="2.8" stroke-linecap="butt"/>
<line x1="400.8" y1="2290.4" x2="415.4" y2="2290.4" stroke="#f349f2" stroke-width="2.8" stroke-linecap="butt"/>
<circle cx="408.1" cy="2259.1" r="6.3" fill="#f349f2"/>
<line x1="446.2" y1="2210.6" x2="446.2" y2="2287.9" stroke="#f349f2" stroke-width="2.8" stroke-linecap="butt"/>
<line x1="438.9" y1="2210.6" x2="453.5" y2="2210.6" stroke="#f349f2" stroke-width="2.8" stroke-linecap="butt"/>
<line x1="438.9" y1="2287.9" x2="453.5" y2="2287.9" stroke="#f349f2" stroke-width="2.8" stroke-linecap="butt"/>
<circle cx="446.2" cy="2249.5" r="6.3" fill="#f349f2"/>
<line x1="669.4" y1="2063.9" x2="669.4" y2="2448.3" stroke="#000" stroke-width="4.6" stroke-linecap="butt"/>
<line x1="669.4" y1="2383.2" x2="1051.5" y2="2383.2" stroke="#000" stroke-width="4.6" stroke-linecap="butt"/>
<line x1="657.2" y1="2066.6" x2="669.4" y2="2066.6" stroke="#000" stroke-width="4.2" stroke-linecap="butt"/>
<text transform="translate(629.9,2074.7)" font-size="23.6" font-weight="bold" font-style="normal" text-anchor="start" fill="#000" stroke="#000" stroke-width="0.9" stroke-linejoin="round">20</text>
<line x1="657.2" y1="2129.9" x2="669.4" y2="2129.9" stroke="#000" stroke-width="4.2" stroke-linecap="butt"/>
<text transform="translate(629.8,2138.0)" font-size="23.6" font-weight="bold" font-style="normal" text-anchor="start" fill="#000" stroke="#000" stroke-width="0.9" stroke-linejoin="round">16</text>
<line x1="657.2" y1="2193.2" x2="669.4" y2="2193.2" stroke="#000" stroke-width="4.2" stroke-linecap="butt"/>
<text transform="translate(629.8,2201.4)" font-size="23.6" font-weight="bold" font-style="normal" text-anchor="start" fill="#000" stroke="#000" stroke-width="0.9" stroke-linejoin="round">12</text>
<line x1="657.2" y1="2256.6" x2="669.4" y2="2256.6" stroke="#000" stroke-width="4.2" stroke-linecap="butt"/>
<text transform="translate(642.8,2264.7)" font-size="23.6" font-weight="bold" font-style="normal" text-anchor="start" fill="#000" stroke="#000" stroke-width="0.9" stroke-linejoin="round">8</text>
<line x1="657.2" y1="2319.9" x2="669.4" y2="2319.9" stroke="#000" stroke-width="4.2" stroke-linecap="butt"/>
<text transform="translate(642.2,2328.0)" font-size="23.6" font-weight="bold" font-style="normal" text-anchor="start" fill="#000" stroke="#000" stroke-width="0.9" stroke-linejoin="round">4</text>
<line x1="657.2" y1="2383.2" x2="669.4" y2="2383.2" stroke="#000" stroke-width="4.2" stroke-linecap="butt"/>
<text transform="translate(643.0,2391.3)" font-size="23.6" font-weight="bold" font-style="normal" text-anchor="start" fill="#000" stroke="#000" stroke-width="0.9" stroke-linejoin="round">0</text>
<line x1="657.2" y1="2446.5" x2="669.4" y2="2446.5" stroke="#000" stroke-width="4.2" stroke-linecap="butt"/>
<text transform="translate(634.3,2454.6)" font-size="23.6" font-weight="bold" font-style="normal" text-anchor="start" fill="#000" stroke="#000" stroke-width="0.9" stroke-linejoin="round">-4</text>
<line x1="745.4" y1="2383.2" x2="745.4" y2="2395.5" stroke="#000" stroke-width="4.6" stroke-linecap="butt"/>
<text transform="translate(724.9,2418.0)" font-size="23.6" font-weight="bold" font-style="normal" text-anchor="start" fill="#000" stroke="#000" stroke-width="0.9" stroke-linejoin="round">-5.5</text>
<line x1="821.6" y1="2383.2" x2="821.6" y2="2395.5" stroke="#000" stroke-width="4.6" stroke-linecap="butt"/>
<text transform="translate(801.4,2418.0)" font-size="23.6" font-weight="bold" font-style="normal" text-anchor="start" fill="#000" stroke="#000" stroke-width="0.9" stroke-linejoin="round">-5.0</text>
<line x1="897.9" y1="2383.2" x2="897.9" y2="2395.5" stroke="#000" stroke-width="4.6" stroke-linecap="butt"/>
<text transform="translate(877.4,2418.0)" font-size="23.6" font-weight="bold" font-style="normal" text-anchor="start" fill="#000" stroke="#000" stroke-width="0.9" stroke-linejoin="round">-4.5</text>
<line x1="974.1" y1="2383.2" x2="974.1" y2="2395.5" stroke="#000" stroke-width="4.6" stroke-linecap="butt"/>
<text transform="translate(953.9,2418.0)" font-size="23.6" font-weight="bold" font-style="normal" text-anchor="start" fill="#000" stroke="#000" stroke-width="0.9" stroke-linejoin="round">-4.0</text>
<line x1="1050.4" y1="2383.2" x2="1050.4" y2="2395.5" stroke="#000" stroke-width="4.6" stroke-linecap="butt"/>
<text transform="translate(1029.9,2418.0)" font-size="23.6" font-weight="bold" font-style="normal" text-anchor="start" fill="#000" stroke="#000" stroke-width="0.9" stroke-linejoin="round">-3.5</text>
<text transform="translate(616.3,2313.3) rotate(-90) scale(0.9822,1)" font-size="31.68" font-weight="bold" font-style="normal" text-anchor="start" fill="#000" stroke="#000" stroke-width="0.9" stroke-linejoin="round">Z-score</text>
<text transform="translate(779.3,2462.0) scale(1.0169,1)" font-size="31" font-weight="bold" font-style="normal" text-anchor="start" fill="#000" stroke="#000" stroke-width="0.9" stroke-linejoin="round">log[HG], M</text>
<path d="M775.5 2385.4 C776.7 2381.7 780.0 2370.8 782.6 2362.9 C785.2 2355.0 788.5 2345.7 791.4 2337.8 C794.3 2329.9 797.0 2322.8 800.1 2315.3 C803.2 2307.8 806.7 2299.8 810.2 2292.7 C813.8 2285.6 817.6 2279.0 821.4 2272.7 C825.1 2266.4 828.7 2260.3 832.7 2255.1 C836.7 2249.9 841.2 2245.1 845.2 2241.4 C849.2 2237.8 852.9 2235.2 856.5 2233.2 C860.1 2231.1 863.5 2230.0 866.9 2229.1 C870.2 2228.2 873.3 2227.8 876.6 2227.8 C879.9 2227.9 883.1 2228.3 886.6 2229.4 C890.1 2230.5 894.6 2232.6 897.9 2234.5 C901.2 2236.4 904.1 2238.6 906.6 2240.7 C909.1 2242.8 911.9 2245.9 913.0 2246.9" fill="none" stroke="#9243f5" stroke-width="5.0" stroke-linecap="butt" stroke-linejoin="round"/>
<line x1="775.9" y1="2365.4" x2="775.9" y2="2378.0" stroke="#9243f5" stroke-width="2.9" stroke-linecap="butt"/>
<line x1="768.4" y1="2365.4" x2="783.4" y2="2365.4" stroke="#9243f5" stroke-width="2.9" stroke-linecap="butt"/>
<line x1="768.4" y1="2378.0" x2="783.4" y2="2378.0" stroke="#9243f5" stroke-width="2.9" stroke-linecap="butt"/>
<polygon points="775.9,2367.8 781.5,2379.0 770.3,2379.0" fill="#9243f5"/>
<line x1="821.4" y1="2294.6" x2="821.4" y2="2328.1" stroke="#9243f5" stroke-width="2.9" stroke-linecap="butt"/>
<line x1="813.9" y1="2294.6" x2="828.9" y2="2294.6" stroke="#9243f5" stroke-width="2.9" stroke-linecap="butt"/>
<line x1="813.9" y1="2328.1" x2="828.9" y2="2328.1" stroke="#9243f5" stroke-width="2.9" stroke-linecap="butt"/>
<polygon points="821.4,2306.6 827.0,2317.8 815.8,2317.8" fill="#9243f5"/>
<line x1="866.9" y1="2119.0" x2="866.9" y2="2267.3" stroke="#9243f5" stroke-width="2.9" stroke-linecap="butt"/>
<line x1="859.4" y1="2119.0" x2="874.4" y2="2119.0" stroke="#9243f5" stroke-width="2.9" stroke-linecap="butt"/>
<line x1="859.4" y1="2267.3" x2="874.4" y2="2267.3" stroke="#9243f5" stroke-width="2.9" stroke-linecap="butt"/>
<polygon points="866.9,2188.7 872.5,2199.9 861.3,2199.9" fill="#9243f5"/>
<line x1="912.5" y1="2227.6" x2="912.5" y2="2292.4" stroke="#9243f5" stroke-width="2.9" stroke-linecap="butt"/>
<line x1="905.0" y1="2227.6" x2="920.0" y2="2227.6" stroke="#9243f5" stroke-width="2.9" stroke-linecap="butt"/>
<line x1="905.0" y1="2292.4" x2="920.0" y2="2292.4" stroke="#9243f5" stroke-width="2.9" stroke-linecap="butt"/>
<polygon points="912.5,2255.0 918.1,2266.2 906.9,2266.2" fill="#9243f5"/>
</g>
<g id="panel-d">
<text transform="translate(1368.4,162.0) scale(1.0163,1)" font-size="33" font-weight="normal" font-style="normal" text-anchor="start" fill="#000" stroke="#000" stroke-width="0.4" stroke-linejoin="round">Basal state</text>
<circle cx="1461.0" cy="319.7" r="6.6" fill="#000"/>
<circle cx="1461.0" cy="423.3" r="6.6" fill="#000"/>
<circle cx="1461.0" cy="470.7" r="6.6" fill="#000"/>
<circle cx="1461.0" cy="501.7" r="6.6" fill="#000"/>
<circle cx="1451.0" cy="526.0" r="6.6" fill="#000"/>
<circle cx="1481.0" cy="530.7" r="6.6" fill="#000"/>
<circle cx="1471.0" cy="549.3" r="6.6" fill="#000"/>
<circle cx="1451.0" cy="559.2" r="6.6" fill="#000"/>
<circle cx="1603.0" cy="410.3" r="6.6" fill="#000"/>
<circle cx="1603.0" cy="547.6" r="6.6" fill="#000"/>
<circle cx="1593.0" cy="571.6" r="6.6" fill="#000"/>
<circle cx="1613.0" cy="573.7" r="6.6" fill="#000"/>
<circle cx="1613.0" cy="595.6" r="6.6" fill="#000"/>
<circle cx="1593.0" cy="609.3" r="6.6" fill="#000"/>
<circle cx="1309.7" cy="592.3" r="6.6" fill="#000"/>
<circle cx="1329.6" cy="584.0" r="6.6" fill="#000"/>
<circle cx="1339.5" cy="619.2" r="6.6" fill="#000"/>
<circle cx="1299.8" cy="628.3" r="6.6" fill="#000"/>
<circle cx="1319.6" cy="633.7" r="6.6" fill="#000"/>
<circle cx="1299.8" cy="649.4" r="6.6" fill="#000"/>
<circle cx="1339.5" cy="653.5" r="6.6" fill="#000"/>
<circle cx="1319.6" cy="659.3" r="6.6" fill="#000"/>
<line x1="1272.4" y1="627.5" x2="1366.8" y2="627.5" stroke="#000" stroke-width="4.2" stroke-linecap="butt"/>
<line x1="1319.6" y1="617.5" x2="1319.6" y2="637.4" stroke="#000" stroke-width="2.2" stroke-linecap="butt"/>
<line x1="1295.6" y1="617.5" x2="1343.6" y2="617.5" stroke="#000" stroke-width="2.2" stroke-linecap="butt"/>
<line x1="1295.6" y1="637.4" x2="1343.6" y2="637.4" stroke="#000" stroke-width="2.2" stroke-linecap="butt"/>
<line x1="1413.8" y1="485.2" x2="1508.2" y2="485.2" stroke="#000" stroke-width="4.2" stroke-linecap="butt"/>
<line x1="1461.0" y1="456.2" x2="1461.0" y2="513.3" stroke="#000" stroke-width="2.2" stroke-linecap="butt"/>
<line x1="1437.0" y1="456.2" x2="1485.0" y2="456.2" stroke="#000" stroke-width="2.2" stroke-linecap="butt"/>
<line x1="1437.0" y1="513.3" x2="1485.0" y2="513.3" stroke="#000" stroke-width="2.2" stroke-linecap="butt"/>
<line x1="1555.8" y1="551.8" x2="1650.2" y2="551.8" stroke="#000" stroke-width="4.2" stroke-linecap="butt"/>
<line x1="1603.0" y1="522.0" x2="1603.0" y2="581.0" stroke="#000" stroke-width="2.2" stroke-linecap="butt"/>
<line x1="1579.0" y1="522.0" x2="1627.0" y2="522.0" stroke="#000" stroke-width="2.2" stroke-linecap="butt"/>
<line x1="1579.0" y1="581.0" x2="1627.0" y2="581.0" stroke="#000" stroke-width="2.2" stroke-linecap="butt"/>
<line x1="1249.3" y1="210.4" x2="1249.3" y2="768.0" stroke="#000" stroke-width="4.4" stroke-linecap="butt"/>
<line x1="1247.1" y1="765.8" x2="1673.0" y2="765.8" stroke="#000" stroke-width="4.4" stroke-linecap="butt"/>
<line x1="1231.0" y1="212.8" x2="1249.3" y2="212.8" stroke="#000" stroke-width="4.4" stroke-linecap="butt"/>
<text transform="translate(1193.3,223.5)" font-size="31.2" font-weight="bold" font-style="normal" text-anchor="start" fill="#000" stroke="#000" stroke-width="0.9" stroke-linejoin="round">15</text>
<line x1="1231.0" y1="351.0" x2="1249.3" y2="351.0" stroke="#000" stroke-width="4.4" stroke-linecap="butt"/>
<text transform="translate(1193.7,361.8)" font-size="31.2" font-weight="bold" font-style="normal" text-anchor="start" fill="#000" stroke="#000" stroke-width="0.9" stroke-linejoin="round">10</text>
<line x1="1231.0" y1="489.2" x2="1249.3" y2="489.2" stroke="#000" stroke-width="4.4" stroke-linecap="butt"/>
<text transform="translate(1210.7,500.0)" font-size="31.2" font-weight="bold" font-style="normal" text-anchor="start" fill="#000" stroke="#000" stroke-width="0.9" stroke-linejoin="round">5</text>
<line x1="1231.0" y1="627.5" x2="1249.3" y2="627.5" stroke="#000" stroke-width="4.4" stroke-linecap="butt"/>
<text transform="translate(1211.1,638.3)" font-size="31.2" font-weight="bold" font-style="normal" text-anchor="start" fill="#000" stroke="#000" stroke-width="0.9" stroke-linejoin="round">0</text>
<line x1="1231.0" y1="765.8" x2="1249.3" y2="765.8" stroke="#000" stroke-width="4.4" stroke-linecap="butt"/>
<text transform="translate(1200.3,776.5)" font-size="31.2" font-weight="bold" font-style="normal" text-anchor="start" fill="#000" stroke="#000" stroke-width="0.9" stroke-linejoin="round">-5</text>
<line x1="1319.6" y1="765.8" x2="1319.6" y2="784.0" stroke="#000" stroke-width="4.4" stroke-linecap="butt"/>
<text transform="translate(1328.0,808.1) rotate(-45)" font-size="32.8" font-weight="bold" font-style="normal" text-anchor="end" fill="#000" stroke="#000" stroke-width="0.9" stroke-linejoin="round">DMSO</text>
<line x1="1461.0" y1="765.8" x2="1461.0" y2="784.0" stroke="#000" stroke-width="4.4" stroke-linecap="butt"/>
<text transform="translate(1469.4,808.1) rotate(-45)" font-size="32.8" font-weight="bold" font-style="normal" text-anchor="end" fill="#000" stroke="#000" stroke-width="0.9" stroke-linejoin="round">HG</text>
<line x1="1603.0" y1="765.8" x2="1603.0" y2="784.0" stroke="#000" stroke-width="4.4" stroke-linecap="butt"/>
<text transform="translate(1611.4,808.1) rotate(-45)" font-size="32.8" font-weight="bold" font-style="normal" text-anchor="end" fill="#000" stroke="#000" stroke-width="0.9" stroke-linejoin="round">Lini</text>
<text transform="translate(1173.6,553.7) rotate(-90) scale(0.944,1)" font-size="37.28" font-weight="bold" font-style="normal" text-anchor="start" fill="#000" stroke="#000" stroke-width="0.9" stroke-linejoin="round">Z-score</text>
<line x1="1317.6" y1="289.5" x2="1462.7" y2="289.5" stroke="#000" stroke-width="2.2" stroke-linecap="butt"/>
<text transform="translate(1365.2,290.7)" font-size="39" font-weight="normal" font-style="normal" text-anchor="start" fill="#000" stroke="#000" stroke-width="1.3" stroke-linejoin="round" letter-spacing="2.52">***</text>
<text transform="translate(1307.7,1043.0) scale(1.0372,1)" font-size="33" font-weight="normal" font-style="normal" text-anchor="start" fill="#000" stroke="#000" stroke-width="0.4" stroke-linejoin="round">Regenerative state</text>
<circle cx="1460.3" cy="1206.2" r="6.6" fill="#000"/>
<circle cx="1460.3" cy="1253.7" r="6.6" fill="#000"/>
<circle cx="1440.8" cy="1285.2" r="6.6" fill="#000"/>
<circle cx="1480.1" cy="1284.3" r="6.6" fill="#000"/>
<circle cx="1460.3" cy="1293.0" r="6.6" fill="#000"/>
<circle cx="1460.3" cy="1335.2" r="6.6" fill="#000"/>
<circle cx="1450.3" cy="1365.8" r="6.6" fill="#000"/>
<circle cx="1470.2" cy="1366.6" r="6.6" fill="#000"/>
<circle cx="1470.2" cy="1461.8" r="6.6" fill="#000"/>
<circle cx="1450.3" cy="1476.2" r="6.6" fill="#000"/>
<circle cx="1602.0" cy="1448.0" r="6.6" fill="#000"/>
<circle cx="1602.0" cy="1522.6" r="6.6" fill="#000"/>
<circle cx="1592.2" cy="1528.8" r="6.6" fill="#000"/>
<circle cx="1611.6" cy="1548.2" r="6.6" fill="#000"/>
<circle cx="1602.1" cy="1572.2" r="6.6" fill="#000"/>
<circle cx="1309.3" cy="1475.8" r="6.6" fill="#000"/>
<circle cx="1328.7" cy="1470.8" r="6.6" fill="#000"/>
<circle cx="1309.3" cy="1504.4" r="6.6" fill="#000"/>
<circle cx="1328.7" cy="1510.3" r="6.6" fill="#000"/>
<circle cx="1279.5" cy="1526.5" r="6.6" fill="#000"/>
<circle cx="1347.8" cy="1525.7" r="6.6" fill="#000"/>
<circle cx="1299.4" cy="1540.8" r="6.6" fill="#000"/>
<circle cx="1328.7" cy="1540.4" r="6.6" fill="#000"/>
<circle cx="1309.3" cy="1551.0" r="6.6" fill="#000"/>
<circle cx="1328.7" cy="1562.7" r="6.6" fill="#000"/>
<circle cx="1279.5" cy="1569.3" r="6.6" fill="#000"/>
<circle cx="1358.1" cy="1567.0" r="6.6" fill="#000"/>
<circle cx="1343.0" cy="1573.0" r="6.6" fill="#000"/>
<circle cx="1294.5" cy="1578.0" r="6.6" fill="#000"/>
<circle cx="1326.5" cy="1579.0" r="6.6" fill="#000"/>
<circle cx="1310.5" cy="1584.2" r="6.6" fill="#000"/>
<line x1="1271.7" y1="1541.2" x2="1366.3" y2="1541.2" stroke="#000" stroke-width="4.2" stroke-linecap="butt"/>
<line x1="1319.0" y1="1531.6" x2="1319.0" y2="1550.7" stroke="#000" stroke-width="2.2" stroke-linecap="butt"/>
<line x1="1294.6" y1="1531.6" x2="1343.4" y2="1531.6" stroke="#000" stroke-width="2.2" stroke-linecap="butt"/>
<line x1="1294.6" y1="1550.7" x2="1343.4" y2="1550.7" stroke="#000" stroke-width="2.2" stroke-linecap="butt"/>
<line x1="1413.1" y1="1332.7" x2="1507.5" y2="1332.7" stroke="#000" stroke-width="4.2" stroke-linecap="butt"/>
<line x1="1460.3" y1="1305.0" x2="1460.3" y2="1360.0" stroke="#000" stroke-width="2.2" stroke-linecap="butt"/>
<line x1="1436.3" y1="1305.0" x2="1484.3" y2="1305.0" stroke="#000" stroke-width="2.2" stroke-linecap="butt"/>
<line x1="1436.3" y1="1360.0" x2="1484.3" y2="1360.0" stroke="#000" stroke-width="2.2" stroke-linecap="butt"/>
<line x1="1554.8" y1="1524.2" x2="1649.2" y2="1524.2" stroke="#000" stroke-width="4.2" stroke-linecap="butt"/>
<line x1="1602.0" y1="1503.0" x2="1602.0" y2="1545.0" stroke="#000" stroke-width="2.2" stroke-linecap="butt"/>
<line x1="1577.5" y1="1503.0" x2="1626.5" y2="1503.0" stroke="#000" stroke-width="2.2" stroke-linecap="butt"/>
<line x1="1577.5" y1="1545.0" x2="1626.5" y2="1545.0" stroke="#000" stroke-width="2.2" stroke-linecap="butt"/>
<line x1="1248.3" y1="1167.6" x2="1248.3" y2="1724.5" stroke="#000" stroke-width="4.4" stroke-linecap="butt"/>
<line x1="1246.1" y1="1722.2" x2="1673.0" y2="1722.2" stroke="#000" stroke-width="4.4" stroke-linecap="butt"/>
<line x1="1230.0" y1="1169.8" x2="1248.3" y2="1169.8" stroke="#000" stroke-width="4.4" stroke-linecap="butt"/>
<text transform="translate(1192.7,1180.6)" font-size="31.2" font-weight="bold" font-style="normal" text-anchor="start" fill="#000" stroke="#000" stroke-width="0.9" stroke-linejoin="round">10</text>
<line x1="1230.0" y1="1353.9" x2="1248.3" y2="1353.9" stroke="#000" stroke-width="4.4" stroke-linecap="butt"/>
<text transform="translate(1209.7,1364.7)" font-size="31.2" font-weight="bold" font-style="normal" text-anchor="start" fill="#000" stroke="#000" stroke-width="0.9" stroke-linejoin="round">5</text>
<line x1="1230.0" y1="1538.1" x2="1248.3" y2="1538.1" stroke="#000" stroke-width="4.4" stroke-linecap="butt"/>
<text transform="translate(1210.1,1548.9)" font-size="31.2" font-weight="bold" font-style="normal" text-anchor="start" fill="#000" stroke="#000" stroke-width="0.9" stroke-linejoin="round">0</text>
<line x1="1230.0" y1="1722.2" x2="1248.3" y2="1722.2" stroke="#000" stroke-width="4.4" stroke-linecap="butt"/>
<text transform="translate(1199.3,1733.0)" font-size="31.2" font-weight="bold" font-style="normal" text-anchor="start" fill="#000" stroke="#000" stroke-width="0.9" stroke-linejoin="round">-5</text>
<line x1="1318.9" y1="1722.2" x2="1318.9" y2="1740.5" stroke="#000" stroke-width="4.4" stroke-linecap="butt"/>
<text transform="translate(1327.3,1764.7) rotate(-45)" font-size="32.8" font-weight="bold" font-style="normal" text-anchor="end" fill="#000" stroke="#000" stroke-width="0.9" stroke-linejoin="round">DMSO</text>
<line x1="1460.3" y1="1722.2" x2="1460.3" y2="1740.5" stroke="#000" stroke-width="4.4" stroke-linecap="butt"/>
<text transform="translate(1468.7,1764.7) rotate(-45)" font-size="32.8" font-weight="bold" font-style="normal" text-anchor="end" fill="#000" stroke="#000" stroke-width="0.9" stroke-linejoin="round">HG</text>
<line x1="1602.3" y1="1722.2" x2="1602.3" y2="1740.5" stroke="#000" stroke-width="4.4" stroke-linecap="butt"/>
<text transform="translate(1610.7,1764.7) rotate(-45)" font-size="32.8" font-weight="bold" font-style="normal" text-anchor="end" fill="#000" stroke="#000" stroke-width="0.9" stroke-linejoin="round">Lini</text>
<text transform="translate(1173.6,1510.6) rotate(-90) scale(0.944,1)" font-size="37.28" font-weight="bold" font-style="normal" text-anchor="start" fill="#000" stroke="#000" stroke-width="0.9" stroke-linejoin="round">Z-score</text>
<line x1="1324.2" y1="1181.8" x2="1462.7" y2="1181.8" stroke="#000" stroke-width="2.2" stroke-linecap="butt"/>
<text transform="translate(1359.3,1184.0)" font-size="39" font-weight="normal" font-style="normal" text-anchor="start" fill="#000" stroke="#000" stroke-width="1.3" stroke-linejoin="round" letter-spacing="2.52">****</text>
</g>
<g id="panel-e">
<circle cx="1392.8" cy="2050.4" r="5.8" fill="#000"/>
<circle cx="1340.3" cy="2057.0" r="5.8" fill="#000"/>
<circle cx="1357.7" cy="2063.6" r="5.8" fill="#000"/>
<circle cx="1375.5" cy="2063.6" r="5.8" fill="#000"/>
<circle cx="1322.5" cy="2070.2" r="5.8" fill="#000"/>
<circle cx="1384.2" cy="2070.2" r="5.8" fill="#000"/>
<circle cx="1401.5" cy="2070.2" r="5.8" fill="#000"/>
<circle cx="1340.3" cy="2076.4" r="5.8" fill="#000"/>
<circle cx="1366.4" cy="2082.6" r="5.8" fill="#000"/>
<circle cx="1349.0" cy="2089.7" r="5.8" fill="#000"/>
<circle cx="1384.2" cy="2089.7" r="5.8" fill="#000"/>
<circle cx="1366.4" cy="2102.0" r="5.8" fill="#000"/>
<circle cx="1349.0" cy="2128.0" r="5.8" fill="#000"/>
<circle cx="1384.2" cy="2128.1" r="5.8" fill="#000"/>
<circle cx="1366.4" cy="2134.8" r="5.8" fill="#000"/>
<circle cx="1349.0" cy="2153.8" r="5.8" fill="#000"/>
<circle cx="1384.2" cy="2153.8" r="5.8" fill="#000"/>
<circle cx="1366.4" cy="2166.6" r="5.8" fill="#000"/>
<circle cx="1340.3" cy="2173.2" r="5.8" fill="#000"/>
<circle cx="1392.8" cy="2179.8" r="5.8" fill="#000"/>
<circle cx="1357.7" cy="2186.4" r="5.8" fill="#000"/>
<circle cx="1375.5" cy="2186.4" r="5.8" fill="#000"/>
<circle cx="1366.4" cy="2224.9" r="5.8" fill="#000"/>
<rect x="1589.2" y="2167.4" width="11.6" height="11.6" fill="#000"/>
<rect x="1589.2" y="2206.2" width="11.6" height="11.6" fill="#000"/>
<rect x="1580.6" y="2239.0" width="11.6" height="11.6" fill="#000"/>
<rect x="1598.0" y="2251.8" width="11.6" height="11.6" fill="#000"/>
<rect x="1589.2" y="2271.2" width="11.6" height="11.6" fill="#000"/>
<rect x="1580.6" y="2277.4" width="11.6" height="11.6" fill="#000"/>
<rect x="1606.6" y="2290.7" width="11.6" height="11.6" fill="#000"/>
<rect x="1598.0" y="2296.9" width="11.6" height="11.6" fill="#000"/>
<rect x="1580.6" y="2309.7" width="11.6" height="11.6" fill="#000"/>
<line x1="1290.4" y1="2117.4" x2="1442.4" y2="2117.4" stroke="#000" stroke-width="4.2" stroke-linecap="butt"/>
<line x1="1366.4" y1="2106.6" x2="1366.4" y2="2128.1" stroke="#000" stroke-width="5.4" stroke-linecap="butt"/>
<line x1="1328.9" y1="2106.6" x2="1403.9" y2="2106.6" stroke="#000" stroke-width="5.4" stroke-linecap="round"/>
<line x1="1328.9" y1="2128.1" x2="1403.9" y2="2128.1" stroke="#000" stroke-width="5.4" stroke-linecap="round"/>
<line x1="1519.3" y1="2262.5" x2="1671.3" y2="2262.5" stroke="#000" stroke-width="4.2" stroke-linecap="butt"/>
<line x1="1595.3" y1="2247.2" x2="1595.3" y2="2278.3" stroke="#000" stroke-width="5.4" stroke-linecap="butt"/>
<line x1="1557.8" y1="2247.2" x2="1632.8" y2="2247.2" stroke="#000" stroke-width="5.4" stroke-linecap="round"/>
<line x1="1557.8" y1="2278.3" x2="1632.8" y2="2278.3" stroke="#000" stroke-width="5.4" stroke-linecap="round"/>
<line x1="1252.2" y1="1989.7" x2="1252.2" y2="2382.0" stroke="#000" stroke-width="4.2" stroke-linecap="butt"/>
<line x1="1250.1" y1="2380.0" x2="1712.0" y2="2380.0" stroke="#000" stroke-width="4.2" stroke-linecap="butt"/>
<line x1="1241.0" y1="1991.8" x2="1252.2" y2="1991.8" stroke="#000" stroke-width="4.2" stroke-linecap="butt"/>
<text transform="translate(1205.4,2001.9)" font-size="29.3" font-weight="bold" font-style="normal" text-anchor="start" fill="#000" stroke="#000" stroke-width="0.9" stroke-linejoin="round">60</text>
<line x1="1241.0" y1="2121.2" x2="1252.2" y2="2121.2" stroke="#000" stroke-width="4.2" stroke-linecap="butt"/>
<text transform="translate(1205.4,2131.3)" font-size="29.3" font-weight="bold" font-style="normal" text-anchor="start" fill="#000" stroke="#000" stroke-width="0.9" stroke-linejoin="round">40</text>
<line x1="1241.0" y1="2250.6" x2="1252.2" y2="2250.6" stroke="#000" stroke-width="4.2" stroke-linecap="butt"/>
<text transform="translate(1205.4,2260.7)" font-size="29.3" font-weight="bold" font-style="normal" text-anchor="start" fill="#000" stroke="#000" stroke-width="0.9" stroke-linejoin="round">20</text>
<line x1="1241.0" y1="2380.0" x2="1252.2" y2="2380.0" stroke="#000" stroke-width="4.2" stroke-linecap="butt"/>
<text transform="translate(1221.7,2390.1)" font-size="29.3" font-weight="bold" font-style="normal" text-anchor="start" fill="#000" stroke="#000" stroke-width="0.9" stroke-linejoin="round">0</text>
<line x1="1366.4" y1="2380.0" x2="1366.4" y2="2392.3" stroke="#000" stroke-width="4.2" stroke-linecap="butt"/>
<text transform="translate(1372.9,2414.0) rotate(-45)" font-size="30" font-weight="bold" font-style="normal" text-anchor="end" fill="#000" stroke="#000" stroke-width="0.9" stroke-linejoin="round">DMSO</text>
<line x1="1595.0" y1="2380.0" x2="1595.0" y2="2392.3" stroke="#000" stroke-width="4.2" stroke-linecap="butt"/>
<text transform="translate(1601.5,2414.0) rotate(-45)" font-size="30" font-weight="bold" font-style="normal" text-anchor="end" fill="#000" stroke="#000" stroke-width="0.9" stroke-linejoin="round">Lini</text>
<line x1="1355.2" y1="1995.8" x2="1605.8" y2="1995.8" stroke="#000" stroke-width="2.2" stroke-linecap="butt"/>
<text transform="translate(1456.0,1975.3)" font-size="29.5" font-weight="normal" font-style="normal" text-anchor="start" fill="#000" stroke="#000" stroke-width="1.3" stroke-linejoin="round" letter-spacing="1.52">****</text>
<text transform="translate(1166.1,2324.6) rotate(-90)" font-size="31" font-weight="bold" text-anchor="start" stroke="#000" stroke-width="0.9" stroke-linejoin="round" textLength="279" lengthAdjust="spacingAndGlyphs"><tspan font-style="italic">ins:H2B-GFP</tspan><tspan font-size="19" dy="-13">+</tspan><tspan dy="13"> cells</tspan></text>
</g>
<text transform="translate(-0.9,41.5) scale(0.8331,1)" font-size="60.46" font-weight="bold" font-style="normal" text-anchor="start" fill="#000" stroke="#000" stroke-width="0.9" stroke-linejoin="round">a</text>
<text transform="translate(-4.0,1041.9) scale(0.9503,1)" font-size="62.31" font-weight="bold" font-style="normal" text-anchor="start" fill="#000" stroke="#000" stroke-width="0.9" stroke-linejoin="round">b</text>
<text transform="translate(-2.1,1958.2) scale(0.8362,1)" font-size="59.73" font-weight="bold" font-style="normal" text-anchor="start" fill="#000" stroke="#000" stroke-width="0.9" stroke-linejoin="round">c</text>
<text transform="translate(1061.2,45.1) scale(0.9496,1)" font-size="62.99" font-weight="bold" font-style="normal" text-anchor="start" fill="#000" stroke="#000" stroke-width="0.9" stroke-linejoin="round">d</text>
<text transform="translate(1069.4,1957.2) scale(0.9666,1)" font-size="63.56" font-weight="bold" font-style="normal" text-anchor="start" fill="#000" stroke="#000" stroke-width="0.9" stroke-linejoin="round">e</text>
</svg>
</body>
</html>
